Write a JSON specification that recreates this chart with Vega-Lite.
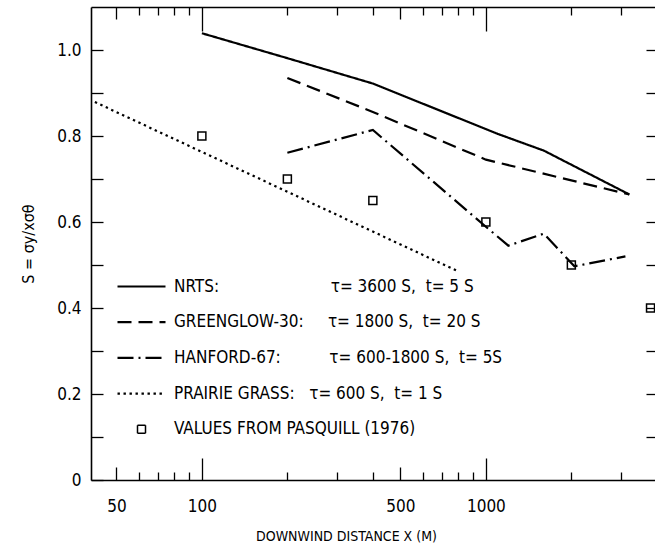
{
  "$schema": "https://vega.github.io/schema/vega-lite/v6.json",
  "width": 564,
  "height": 473,
  "autosize": "none",
  "padding": {"left": 91, "top": 7, "right": 0, "bottom": 69},
  "background": "white",
  "config": {
    "font": "Liberation Sans Narrow, DejaVu Sans Condensed, Liberation Sans",
    "view": {"stroke": null},
    "axis": {
      "domainColor": "black", "domainWidth": 1.6, "tickColor": "black", "tickWidth": 1.3,
      "labelColor": "black", "titleColor": "black", "grid": false,
      "labelFont": "Liberation Sans Narrow, DejaVu Sans Condensed, Liberation Sans",
      "titleFont": "Liberation Sans Narrow, DejaVu Sans Condensed, Liberation Sans",
      "titleFontWeight": "normal", "labelFontSize": 17, "titleFontSize": 14
    }
  },
  "datasets": {
    "lines": [
      {"series": "NRTS", "x": 100, "s": 1.039},
      {"series": "NRTS", "x": 200, "s": 0.981},
      {"series": "NRTS", "x": 400, "s": 0.922},
      {"series": "NRTS", "x": 1100, "s": 0.805},
      {"series": "NRTS", "x": 1600, "s": 0.766},
      {"series": "NRTS", "x": 3200, "s": 0.664},
      {"series": "GREENGLOW-30", "x": 200, "s": 0.935},
      {"series": "GREENGLOW-30", "x": 400, "s": 0.856},
      {"series": "GREENGLOW-30", "x": 1000, "s": 0.745},
      {"series": "GREENGLOW-30", "x": 3200, "s": 0.664},
      {"series": "HANFORD-67", "x": 200, "s": 0.761},
      {"series": "HANFORD-67", "x": 400, "s": 0.814},
      {"series": "HANFORD-67", "x": 1000, "s": 0.589},
      {"series": "HANFORD-67", "x": 1200, "s": 0.545},
      {"series": "HANFORD-67", "x": 1600, "s": 0.573},
      {"series": "HANFORD-67", "x": 2050, "s": 0.497},
      {"series": "HANFORD-67", "x": 3100, "s": 0.52},
      {"series": "PRAIRIE GRASS", "x": 42, "s": 0.879},
      {"series": "PRAIRIE GRASS", "x": 800, "s": 0.485}
    ],
    "pts": [
      {"x": 100, "s": 0.80},
      {"x": 200, "s": 0.70},
      {"x": 400, "s": 0.65},
      {"x": 1000, "s": 0.60},
      {"x": 2000, "s": 0.50},
      {"x": 3800, "s": 0.40}
    ]
  },
  "layer": [
    {
      "data": {"name": "lines"},
      "mark": {"type": "line", "color": "black", "strokeWidth": 2.2, "strokeCap": "butt"},
      "encoding": {
        "x": {
          "field": "x", "type": "quantitative",
          "scale": {"type": "log", "domain": [40.7, 3940], "nice": false},
          "axis": {
            "orient": "bottom",
            "values": [50, 60, 70, 80, 90, 100, 200, 300, 400, 500, 600, 700, 800, 900, 1000, 2000, 3000],
            "tickSize": {"condition": [{"test": "datum.value == 100 || datum.value == 1000", "value": -22}, {"test": "datum.value == 50 || datum.value == 500", "value": -13}], "value": -8},
            "labelPadding": {"condition": [{"test": "datum.value == 100 || datum.value == 1000", "value": 40}, {"test": "datum.value == 50 || datum.value == 500", "value": 31}], "value": 26},
            "labelExpr": "indexof([50,100,500,1000], datum.value) >= 0 ? format(datum.value, 'd') : ''",
            "labelOverlap": false,
            "title": "DOWNWIND DISTANCE X (M)",
            "titleX": 255,
            "titleY": 60,
            "titleBaseline": "alphabetic"
          }
        },
        "y": {
          "field": "s", "type": "quantitative",
          "scale": {"domain": [0, 1.1], "nice": false, "zero": false},
          "axis": {
            "orient": "left",
            "values": [0, 0.1, 0.2, 0.3, 0.4, 0.5, 0.6, 0.7, 0.8, 0.9, 1.0],
            "tickSize": -12,
            "labelPadding": 22,
            "labelExpr": "datum.value == 0 ? '0' : (round(datum.value * 10) % 2 == 0 ? format(datum.value, '.1f') : '')",
            "labelOverlap": false,
            "title": "S = σy/xσθ",
            "titlePadding": 20,
            "titleFontSize": 16
          }
        },
        "strokeDash": {
          "field": "series", "type": "nominal",
          "scale": {
            "domain": ["NRTS", "GREENGLOW-30", "HANFORD-67", "PRAIRIE GRASS", "PASQUILL"],
            "range": [[1, 0], [14, 7], [16, 5, 2, 5], [2.4, 3.6], [1, 0]]
          },
          "legend": {
            "orient": "none", "legendX": 42, "legendY": 271, "title": null,
            "padding": 0, "symbolType": "stroke", "symbolSize": 2304,
            "symbolStrokeWidth": 2.2, "symbolStrokeColor": "black",
            "labelFontSize": 17, "labelColor": "black", "labelOffset": 24, "labelLimit": 500,
            "labelFont": "Liberation Sans Narrow, DejaVu Sans Condensed, Liberation Sans",
            "rowPadding": 17.7,
            "labelExpr": "datum.value == 'NRTS' ? 'NRTS:' + pad('', 23, '\u00a0') + 'τ= 3600 S,\u00a0\u00a0t= 5 S' : datum.value == 'GREENGLOW-30' ? 'GREENGLOW-30:' + pad('', 5, '\u00a0') + 'τ= 1800 S,\u00a0\u00a0t= 20 S' : datum.value == 'HANFORD-67' ? 'HANFORD-67:' + pad('', 10, '\u00a0') + 'τ= 600-1800 S,\u00a0\u00a0t= 5S' : datum.value == 'PRAIRIE GRASS' ? 'PRAIRIE GRASS:' + pad('', 3, '\u00a0') + 'τ= 600 S,\u00a0\u00a0t= 1 S' : 'VALUES FROM PASQUILL (1976)'",
            "encode": {
              "symbols": {
                "update": {
                  "shape": {"signal": "datum.value === 'PASQUILL' ? 'square' : 'stroke'"},
                  "size": {"signal": "datum.value === 'PASQUILL' ? 64 : 2304"},
                  "strokeWidth": {"signal": "datum.value === 'PASQUILL' ? 1.5 : 2.2"}
                }
              }
            }
          }
        }
      }
    },
    {
      "data": {"name": "pts"},
      "mark": {"type": "point", "shape": "square", "size": 64, "filled": false, "color": "black", "strokeWidth": 1.5, "opacity": 1},
      "encoding": {
        "x": {
          "field": "x", "type": "quantitative",
          "axis": {
            "orient": "top",
            "values": [50, 60, 70, 80, 90, 100, 200, 300, 400, 500, 600, 700, 800, 900, 1000, 2000, 3000],
            "tickSize": {"condition": [{"test": "datum.value == 100 || datum.value == 1000", "value": -24}, {"test": "datum.value == 50 || datum.value == 500", "value": -12}], "value": -8},
            "labels": false,
            "title": null
          }
        },
        "y": {
          "field": "s", "type": "quantitative",
          "axis": {
            "orient": "right",
            "values": [0.1, 0.2, 0.3, 0.4, 0.5, 0.6, 0.7, 0.8, 0.9, 1.0],
            "tickSize": -9,
            "labels": false,
            "domain": false,
            "title": null
          }
        }
      }
    }
  ],
  "resolve": {"axis": {"x": "independent", "y": "independent"}}
}
